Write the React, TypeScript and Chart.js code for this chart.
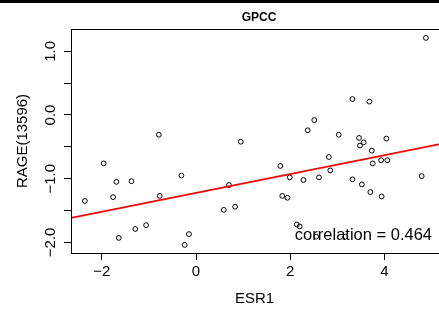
import { useEffect, useRef } from "react";
import { Chart, registerables } from "chart.js";

Chart.register(...registerables);

const FONT = '"Liberation Sans", Arial, Helvetica, sans-serif';

const TITLE = "GPCC";
const X_LABEL = "ESR1";
const Y_LABEL = "RAGE(13596)";
const CORR_TEXT = "correlation = 0.464";

const X_VALUES = [
  4.88, 3.32, 3.68, 2.51, 2.37, -0.79, 3.03, 3.46, 4.04, 0.95, 3.56, 3.48,
  3.73, 2.82, -1.96, 1.79, 3.75, 3.93, 4.06, 2.85, -0.31, -1.69, -1.37, 1.99,
  2.28, 2.61, 3.32, 4.79, 3.52, 0.7, -2.36, -1.76, -0.77, 1.83, 1.94, 3.7,
  3.94, 0.59, 0.83, -1.06, -1.29, -1.64, -0.15, -0.24, 2.14, 2.2, 2.55, 3.17,
];
const Y_VALUES = [
  1.21, 0.25, 0.21, -0.08, -0.24, -0.31, -0.31, -0.36, -0.37, -0.42, -0.43,
  -0.48, -0.56, -0.66, -0.76, -0.8, -0.76, -0.71, -0.71, -0.87, -0.95, -1.05,
  -1.04, -0.98, -1.02, -0.98, -1.01, -0.96, -1.09, -1.1, -1.35, -1.29, -1.27,
  -1.27, -1.3, -1.21, -1.28, -1.49, -1.44, -1.73, -1.79, -1.93, -1.87, -2.04,
  -1.72, -1.75, -1.91, -1.91,
];

const FIT_INTERCEPT = -1.223;
const FIT_SLOPE = 0.148;

const X_MIN = -2.654;
const X_MAX = 5.2;
const Y_MIN = -2.167;
const Y_MAX = 1.35;

const X_TICKS = [-2, 0, 2, 4];
const X_TICK_LABELS = ["\u22122", "0", "2", "4"];
const Y_TICKS = [-2, -1.5, -1, -0.5, 0, 0.5, 1];
const Y_TICK_LABELS = ["\u22122.0", "", "\u22121.0", "", "0.0", "", "1.0"];

const textPlugin = {
  id: "rtext",
  afterDraw(chart: any) {
    const ctx = chart.ctx as CanvasRenderingContext2D;
    const area = chart.chartArea;
    const xs = chart.scales.x;
    const ys = chart.scales.y;
    ctx.save();
    // top bar (edge of panel above)
    ctx.fillStyle = "#000";
    ctx.fillRect(0, 0, 439, 3);
    // box
    ctx.strokeStyle = "#000";
    ctx.lineWidth = 1;
    ctx.strokeRect(
      Math.round(area.left) + 0.5,
      Math.round(area.top) + 0.5,
      Math.round(area.right - area.left),
      Math.round(area.bottom - area.top)
    );
    ctx.fillStyle = "#000";
    // x tick labels
    ctx.font = `15px ${FONT}`;
    ctx.textAlign = "center";
    ctx.textBaseline = "middle";
    X_TICKS.forEach((v, i) => {
      ctx.fillText(X_TICK_LABELS[i], xs.getPixelForValue(v), 272);
    });
    // y tick labels (rotated)
    Y_TICKS.forEach((v, i) => {
      const lab = Y_TICK_LABELS[i];
      if (!lab) return;
      ctx.save();
      ctx.translate(50.5, ys.getPixelForValue(v));
      ctx.rotate(-Math.PI / 2);
      ctx.fillText(lab, 0, 0);
      ctx.restore();
    });
    // axis titles
    ctx.fillText(X_LABEL, (area.left + 438) / 2, 299);
    ctx.save();
    ctx.translate(23, 141);
    ctx.rotate(-Math.PI / 2);
    ctx.fillText(Y_LABEL, 0, 0);
    ctx.restore();
    // title
    ctx.font = `bold 12px ${FONT}`;
    ctx.fillText(TITLE, 259, 18);
    // correlation
    ctx.font = `16.5px ${FONT}`;
    ctx.textAlign = "right";
    ctx.fillText(CORR_TEXT, 432, 235);
    ctx.restore();
  },
};

export default function App() {
  const ref = useRef<HTMLCanvasElement>(null);
  useEffect(() => {
    const points = X_VALUES.map((x, i) => ({ x, y: Y_VALUES[i] }));
    const fit = [X_MIN, X_MAX].map((x) => ({
      x,
      y: FIT_INTERCEPT + FIT_SLOPE * x,
    }));
    const chart = new Chart(ref.current!, {
      type: "scatter",
      data: {
        datasets: [
          {
            type: "line",
            data: fit,
            borderColor: "#ff0000",
            borderWidth: 1.6,
            pointRadius: 0,
            fill: false,
          } as any,
          {
            data: points,
            pointRadius: 2.4,
            pointBorderWidth: 1,
            pointBorderColor: "#000",
            pointBackgroundColor: "rgba(0,0,0,0)",
            borderColor: "#000",
            backgroundColor: "rgba(0,0,0,0)",
          },
        ],
      },
      options: {
        animation: false,
        responsive: false,
        devicePixelRatio: 1,
        layout: {
          padding: { top: 29, right: 2, left: 0, bottom: 0 },
          autoPadding: false,
        } as any,
        plugins: {
          legend: { display: false },
          title: { display: false },
          tooltip: { enabled: false },
        },
        scales: {
          x: {
            type: "linear",
            min: X_MIN,
            max: X_MAX,
            afterBuildTicks: (s: any) => {
              s.ticks = X_TICKS.map((v) => ({ value: v }));
            },
            afterFit: (s: any) => {
              s.height = 58;
            },
            ticks: { display: false },
            grid: {
              drawOnChartArea: false,
              drawTicks: true,
              tickLength: 7,
              color: "#000",
              tickColor: "#000",
              lineWidth: 1,
            },
            border: { display: false },
          },
          y: {
            type: "linear",
            min: Y_MIN,
            max: Y_MAX,
            afterBuildTicks: (s: any) => {
              s.ticks = Y_TICKS.map((v) => ({ value: v }));
            },
            afterFit: (s: any) => {
              s.width = 71;
            },
            ticks: { display: false },
            grid: {
              drawOnChartArea: false,
              drawTicks: true,
              tickLength: 7,
              color: "#000",
              tickColor: "#000",
              lineWidth: 1,
            },
            border: { display: false },
          },
        },
      } as any,
      plugins: [textPlugin],
    });
    return () => chart.destroy();
  }, []);
  return (
    <div
      style={{
        position: "absolute",
        left: 0,
        top: 0,
        width: 439,
        height: 311,
        overflow: "hidden",
        background: "#fff",
      }}
    >
      <canvas ref={ref} width={443} height={311} style={{ display: "block" }} />
    </div>
  );
}
